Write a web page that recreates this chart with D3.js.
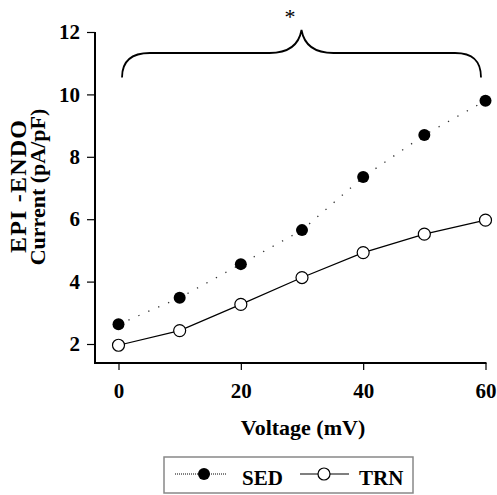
<!DOCTYPE html>
<html>
<head>
<meta charset="utf-8">
<script src="https://cdn.jsdelivr.net/npm/d3@7"></script>
<style>
html,body{margin:0;padding:0;background:#fff;}
svg{display:block;}
text{font-family:"Liberation Serif","Times New Roman",serif;font-weight:bold;fill:#000;}
</style>
</head>
<body>
<svg id="chart" width="497" height="495"></svg>
<script>
const voltages = [0, 10, 20, 30, 40, 50, 60];
const sedValues = [2.63, 3.48, 4.56, 5.65, 7.35, 8.70, 9.80];
const trnValues = [1.96, 2.43, 3.27, 4.13, 4.93, 5.52, 5.97];
const xTicks = [0, 20, 40, 60];
const yTicks = [2, 4, 6, 8, 10, 12];
const seriesNames = ["SED", "TRN"];
const xTitle = "Voltage (mV)";
const yTitleLines = ["EPI -ENDO", "Current (pA/pF)"];

const svg = d3.select("#chart");
const x = d3.scaleLinear().domain([0, 60]).range([118.5, 485.5]);
const y = d3.scaleLinear().domain([2, 12]).range([344, 32]);

// axes
const xAxis = d3.axisBottom(x).tickValues(xTicks).tickSize(7).tickPadding(13).tickSizeOuter(0);
const gx = svg.append("g").attr("transform", "translate(0,363)").call(xAxis);
gx.select(".domain").remove();
gx.selectAll(".tick line").attr("stroke", "#000").attr("stroke-width", 1.2);
gx.selectAll(".tick text").style("font-size", "21px").attr("dy", "0.71em");

const yAxis = d3.axisLeft(y).tickValues(yTicks).tickSize(8).tickPadding(7).tickSizeOuter(0);
const gy = svg.append("g").attr("transform", "translate(95,0)").call(yAxis);
gy.select(".domain").remove();
gy.selectAll(".tick line").attr("stroke", "#000").attr("stroke-width", 1.2);
gy.selectAll(".tick text").style("font-size", "21px");

svg.append("line").attr("x1", 95).attr("x2", 95).attr("y1", y(12)).attr("y2", 364)
  .attr("stroke", "#000").attr("stroke-width", 2);
svg.append("line").attr("x1", 94).attr("x2", x(60) + 1).attr("y1", 363).attr("y2", 363)
  .attr("stroke", "#000").attr("stroke-width", 2);

// titles
svg.append("text").attr("x", 303).attr("y", 435).attr("text-anchor", "middle")
  .style("font-size", "22px").text(xTitle);
const yt = svg.append("g").attr("transform", "translate(26,187) rotate(-90)");
yt.append("text").attr("x", 1).attr("y", 0).attr("text-anchor", "middle").style("font-size", "24px")
  .style("letter-spacing", "1.2px").text(yTitleLines[0]);
yt.append("text").attr("x", 0).attr("y", 19).attr("text-anchor", "middle").style("font-size", "22px").text(yTitleLines[1]);

// lines
const line = d3.line().x((d, i) => x(voltages[i])).y(d => y(d));
svg.append("path").datum(sedValues).attr("d", line).attr("fill", "none")
  .attr("stroke", "#333").attr("stroke-width", 1.3).attr("stroke-dasharray", "1.3,9.5");
svg.append("path").datum(trnValues).attr("d", line).attr("fill", "none")
  .attr("stroke", "#000").attr("stroke-width", 1.2);

svg.selectAll("circle.sed").data(sedValues).enter().append("circle")
  .attr("class", "sed").attr("cx", (d, i) => x(voltages[i])).attr("cy", d => y(d))
  .attr("r", 6).attr("fill", "#000");
svg.selectAll("circle.trn").data(trnValues).enter().append("circle")
  .attr("class", "trn").attr("cx", (d, i) => x(voltages[i])).attr("cy", d => y(d))
  .attr("r", 6).attr("fill", "#fff").attr("stroke", "#000").attr("stroke-width", 1.2);

// brace annotation
const bl = x(0) + 3.5, br = x(60) - 4.5, bm = x(30) - 0.5;
const by = 53, bb = 77.5, bp = 30;
const brace = `M${bl},${bb} C${bl},${by - 2 + 10} ${bl + 10},${by} ${bl + 28},${by}
  L${bm - 32},${by} C${bm - 16},${by} ${bm - 3},${by - 6} ${bm},${bp}
  C${bm + 3},${by - 6} ${bm + 16},${by} ${bm + 32},${by}
  L${br - 26},${by} C${br - 8},${by} ${br},${by + 8} ${br},${bb}`;
svg.append("path").attr("d", brace).attr("fill", "none").attr("stroke", "#000").attr("stroke-width", 1.8);
svg.append("text").attr("x", 290).attr("y", 24).attr("text-anchor", "middle")
  .style("font-size", "22px").style("font-weight", "normal").text("*");

// legend
svg.append("rect").attr("x", 164).attr("y", 457).attr("width", 249).attr("height", 36)
  .attr("fill", "#fff").attr("stroke", "#888").attr("stroke-width", 1.5);
svg.append("line").attr("x1", 175).attr("x2", 226).attr("y1", 474).attr("y2", 474)
  .attr("stroke", "#000").attr("stroke-width", 1).attr("stroke-dasharray", "1,1");
svg.append("circle").attr("cx", 204).attr("cy", 474).attr("r", 6).attr("fill", "#000");
svg.append("text").attr("x", 242).attr("y", 485).style("font-size", "21px").text(seriesNames[0]);
svg.append("line").attr("x1", 300).attr("x2", 349).attr("y1", 474).attr("y2", 474)
  .attr("stroke", "#000").attr("stroke-width", 1.2);
svg.append("circle").attr("cx", 324).attr("cy", 474).attr("r", 6).attr("fill", "#fff")
  .attr("stroke", "#000").attr("stroke-width", 1.2);
svg.append("text").attr("x", 359).attr("y", 485).style("font-size", "21px").text(seriesNames[1]);
</script>
</body>
</html>
